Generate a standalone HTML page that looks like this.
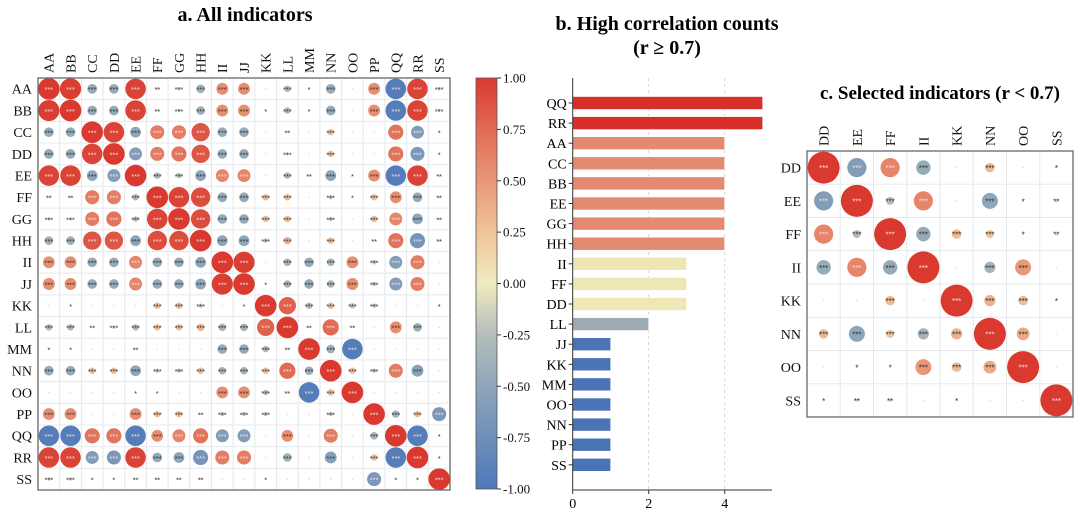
<!DOCTYPE html>
<html><head><meta charset="utf-8"><style>
body{margin:0;background:#fff;}
svg{display:block;font-family:"Liberation Serif",serif;}
</style></head><body>
<svg id="s" width="1080" height="516"></svg>
<script>
const labelsA=["AA","BB","CC","DD","EE","FF","GG","HH","II","JJ","KK","LL","MM","NN","OO","PP","QQ","RR","SS"];
// upper triangle rows (from diagonal onward)
const upperA=[
[1,.98,-.45,-.45,.95,-.1,-.15,-.4,.55,.55,0,-.3,-.07,-.45,0,.55,-.95,.95,-.15],
[1,-.45,-.45,.95,-.1,-.15,-.4,.55,.55,.06,-.3,-.07,-.45,0,.55,-.95,.95,-.15],
[1,.95,-.5,.65,.65,.85,-.45,-.45,0,-.1,0,.3,0,0,.7,-.6,-.06],
[1,-.6,.65,.7,.85,-.45,-.45,0,-.15,0,.3,0,0,.7,-.65,-.06],
[1,-.3,-.25,-.5,.6,.6,0,-.3,-.1,-.5,-.06,.55,-.95,.95,-.1],
[1,.95,.9,-.45,-.45,.3,.3,0,-.2,.06,.3,.55,-.45,-.1],
[1,.9,-.45,-.45,.3,.3,0,-.2,0,.3,.6,-.5,-.1],
[1,-.5,-.5,-.2,.35,0,.3,0,.1,.7,-.7,-.1],
[1,.98,0,-.35,-.45,-.35,.55,-.2,-.6,.65,0],
[1,.06,-.35,-.45,-.35,.55,-.2,-.6,.65,0],
[1,.8,-.3,.3,-.25,-.2,0,0,.06],
[1,-.1,.75,-.1,0,.55,-.4,0],
[1,-.4,-.95,0,0,0,0],
[1,.3,-.2,.65,-.55,0],
[1,0,0,0,0],
[1,-.35,.3,-.65],
[1,-.95,.06],
[1,.06],
[1]];
const labelsB=["QQ","RR","AA","CC","BB","EE","GG","HH","II","FF","DD","LL","JJ","KK","MM","OO","NN","PP","SS"];
const countsB=[5,5,4,4,4,4,4,4,3,3,3,2,1,1,1,1,1,1,1];
const ticksB=[0,2,4];
const labelsC=["DD","EE","FF","II","KK","NN","OO","SS"];
const upperC=[
[1,-.6,.6,-.45,0,.3,0,-.06],
[1,-.25,.6,0,-.5,-.06,-.1],
[1,-.45,.3,.25,.06,-.1],
[1,0,-.35,.5,0],
[1,.35,.3,.06],
[1,.4,0],
[1,0],
[1]];
const cbTicks=[1,.75,.5,.25,0,-.25,-.5,-.75,-1];

const NS="http://www.w3.org/2000/svg";
const svg=document.getElementById('s');
function el(t,a,p){const e=document.createElementNS(NS,t);for(const k in a)e.setAttribute(k,a[k]);(p||svg).appendChild(e);return e;}
function txt(s,a,p){const e=el('text',a,p);e.textContent=s;return e;}
const stops=[[-1,[79,120,185]],[-.5,[142,166,186]],[-.25,[180,190,186]],[0,[239,234,192]],[.25,[240,196,154]],[.5,[232,151,119]],[.75,[226,107,85]],[1,[217,57,47]]];
function cmap(v){for(let i=0;i<stops.length-1;i++){const[a,ca]=stops[i],[b,cb]=stops[i+1];if(v<=b){const t=(v-a)/(b-a);return'rgb('+ca.map((c,j)=>Math.round(c+(cb[j]-c)*t)).join(',')+')';}}return'rgb(217,57,47)';}
function full(up){const n=up.length,m=[];for(let i=0;i<n;i++){m.push([]);for(let j=0;j<n;j++)m[i].push(j>=i?up[i][j-i]:up[j][i-j]);}return m;}
function stars(v){const a=Math.abs(v);return a>=.15?'***':a>=.1?'**':a>=.05?'*':'';}

function matrix(labels,up,x0,y0,size,rmax,fs,sfs,name,topY){
  const n=labels.length,cs=size/n,m=full(up);
  const g=el('g',{});
  for(let i=0;i<=n;i++){
    el('line',{x1:x0+i*cs,x2:x0+i*cs,y1:y0,y2:y0+size,stroke:'#e6e8ec','stroke-width':1},g);
    el('line',{x1:x0,x2:x0+size,y1:y0+i*cs,y2:y0+i*cs,stroke:'#e6e8ec','stroke-width':1},g);
  }
  for(let i=0;i<n;i++)for(let j=0;j<n;j++){
    const v=m[i][j],cx=x0+(j+.5)*cs,cy=y0+(i+.5)*cs,s=stars(v);
    if(s){const c=el('circle',{cx:cx,cy:cy,r:Math.max(Math.abs(v)*rmax,0.5),fill:cmap(v)},g);
      
      
      txt(s,{x:cx,y:cy+sfs*0.45,'text-anchor':'middle','font-size':sfs,fill:Math.abs(v)>.55?'#f3dcd8':'#333','font-family':'Liberation Sans,sans-serif'},g);}
    else el('circle',{cx:cx,cy:cy,r:0.8,fill:'#ddd'},g);
  }
  el('rect',{x:x0,y:y0,width:size,height:size,fill:'none',stroke:'#666','stroke-width':1.3},g);
  labels.forEach((l,i)=>{
    const t=txt(l,{x:x0-6,y:y0+(i+.5)*cs+fs*0.35,'text-anchor':'end','font-size':fs,fill:'#111'},g);
    
    const u=txt(l,{transform:'translate('+(x0+(i+.5)*cs+fs*0.35)+','+topY+') rotate(-90)','font-size':fs,fill:'#111'},g);
    
  });
}
// titles
let t=txt('a. All indicators',{x:245,y:21,'text-anchor':'middle','font-size':20,'font-weight':'bold'});
t=txt('b. High correlation counts',{x:667,y:30,'text-anchor':'middle','font-size':20,'font-weight':'bold'});
t=txt('(r ≥ 0.7)',{x:667,y:54,'text-anchor':'middle','font-size':20,'font-weight':'bold'});
t=txt('c. Selected indicators (r < 0.7)',{x:940,y:99,'text-anchor':'middle','font-size':19,'font-weight':'bold'});

matrix(labelsA,upperA,38,78,412,10.8,14,7.5,'matrix-a',73);
matrix(labelsC,upperC,807,151,266,16,14,8,'matrix-c',146);

// colorbar
const defs=el('defs',{});const lg=el('linearGradient',{id:'cb',x1:0,y1:1,x2:0,y2:0},defs);
stops.forEach(s=>el('stop',{offset:((s[0]+1)/2*100)+'%','stop-color':cmap(s[0])},lg));
const cbTop=78,cbBot=489;
const cb=el('rect',{x:476,y:cbTop,width:21,height:cbBot-cbTop,fill:'url(#cb)',stroke:'#555','stroke-width':.8});

cbTicks.forEach(v=>{const y=cbTop+(1-v)/2*(cbBot-cbTop);
  el('line',{x1:497,x2:501,y1:y,y2:y,stroke:'#333'});
  const l=txt(v.toFixed(2),{x:503,y:y+4.5,'font-size':13,fill:'#111'});
  });

// bar chart
const bx0=572.7,bxu=38,by0=103,bdy=20.1;
const barColor=c=>c>=5?'#d7302a':c>=4?'#e38a70':c>=3?'#efe6b6':c>=2?'#9eacb6':'#4a74b6';
ticksB.forEach(v=>{const x=bx0+v*bxu;
  if(v>0)el('line',{x1:x,x2:x,y1:78,y2:490,stroke:'#ccc','stroke-dasharray':'3,3','stroke-width':.8});
  el('line',{x1:x,x2:x,y1:490,y2:494,stroke:'#333'});
  const l=txt(v,{x:x,y:508,'text-anchor':'middle','font-size':14});});
labelsB.forEach((l,i)=>{const y=by0+i*bdy;
  const r=el('rect',{x:bx0,y:y-6.5,width:countsB[i]*bxu,height:13,fill:barColor(countsB[i]),stroke:'#fff','stroke-width':.6});
  
  el('line',{x1:bx0-4,x2:bx0,y1:y,y2:y,stroke:'#333'});
  const tl=txt(l,{x:bx0-6,y:y+5,'text-anchor':'end','font-size':14});});
el('line',{x1:bx0,x2:bx0,y1:78,y2:490,stroke:'#333','stroke-width':1});
el('line',{x1:bx0,x2:772,y1:490,y2:490,stroke:'#333','stroke-width':1});
</script>
</body></html>
